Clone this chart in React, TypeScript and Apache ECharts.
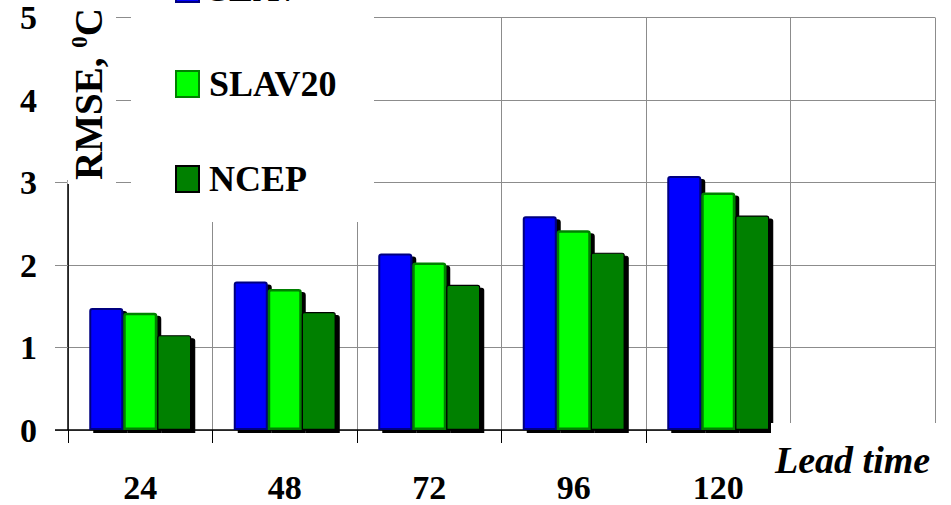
import React, { useEffect, useRef } from 'react';
import * as echarts from 'echarts';

const categories = ['24', '48', '72', '96', '120', ''];
const seriesNames = ['SLAV', 'SLAV20', 'NCEP'];
const slav = [1.48, 1.8, 2.14, 2.59, 3.08];
const slav20 = [1.42, 1.71, 2.03, 2.42, 2.88];
const ncep = [1.15, 1.43, 1.76, 2.15, 2.6];
const yTicks = { min: 0, max: 5, interval: 1 };

const FONT = '"Liberation Serif", "Times New Roman", serif';

export default function App() {
  const ref = useRef<HTMLDivElement>(null);
  useEffect(() => {
    const chart = echarts.init(ref.current!, null, { renderer: 'svg' });
    const barStyle = (fill: string, border: string, bw: number) => ({
      color: fill,
      borderColor: border,
      borderWidth: bw,
      shadowColor: '#000',
      shadowOffsetX: 4,
      shadowOffsetY: 3,
      shadowBlur: 0,
      borderRadius: [2, 2, 0, 0],
    });
    const axisFont = { fontSize: 34, fontWeight: 'bold', fontFamily: FONT, color: '#000' };
    const legendFont = { fontSize: 36, fontWeight: 'bold', fontFamily: FONT, color: '#000' };
    chart.setOption({
      animation: false,
      backgroundColor: '#fff',
      grid: { left: 68, right: 16, top: 17.5, bottom: 75, containLabel: false },
      xAxis: {
        type: 'category',
        data: categories,
        boundaryGap: true,
        axisLine: { show: true, lineStyle: { color: '#000', width: 1.5 } },
        axisTick: { show: true, length: 13, lineStyle: { color: '#000', width: 1 } },
        axisLabel: { margin: 40, ...axisFont },
        splitLine: { show: true, lineStyle: { color: '#8c8c8c', width: 1 } },
      },
      yAxis: {
        type: 'value',
        ...yTicks,
        axisLine: { show: true, lineStyle: { color: '#000', width: 1.5 } },
        axisTick: { show: true, length: 13, lineStyle: { color: '#8c8c8c', width: 1 } },
        axisLabel: { margin: 31, ...axisFont },
        splitLine: { show: true, lineStyle: { color: '#8c8c8c', width: 1 } },
      },
      legend: {
        orient: 'vertical',
        left: 175,
        top: -29,
        itemWidth: 23,
        itemHeight: 26,
        itemGap: 59,
        icon: 'rect',
        padding: 0,
        z: 20,
        data: seriesNames,
        textStyle: { ...legendFont, padding: [0, 0, 0, 5] },
        itemStyle: { shadowBlur: 0, shadowOffsetX: 0, shadowOffsetY: 0, shadowColor: 'rgba(0,0,0,0)' },
      },
      series: [
        { name: seriesNames[0], type: 'bar', data: slav, barWidth: 34, barGap: '0%', itemStyle: barStyle('#0000ff', '#000080', 2) },
        { name: seriesNames[1], type: 'bar', data: slav20, barWidth: 34, barGap: '0%', itemStyle: barStyle('#00ff00', '#008000', 2.5) },
        { name: seriesNames[2], type: 'bar', data: ncep, barWidth: 34, barGap: '0%', itemStyle: barStyle('#008000', '#000000', 1.2) },
      ],
      graphic: [
        { type: 'rect', z: 10, shape: { x: 45, y: 0, width: 71, height: 180 }, style: { fill: '#fff' } },
        { type: 'rect', z: 10, shape: { x: 67.5, y: 0, width: 48.5, height: 184 }, style: { fill: '#fff' } },
        { type: 'rect', z: 10, shape: { x: 131, y: 0, width: 243, height: 222 }, style: { fill: '#fff' } },
        { type: 'rect', z: 10, shape: { x: 771, y: 423, width: 180, height: 21 }, style: { fill: '#fff' } },
        { type: 'line', z: 10, shape: { x1: 55, y1: 430, x2: 68, y2: 430 }, style: { stroke: '#000', lineWidth: 1.5 } },
        {
          type: 'text',
          z: 20,
          x: 88,
          y: 180,
          rotation: Math.PI / 2,
          style: {
            text: '{a|RMSE, }{s|0}{a|C}',
            align: 'left',
            verticalAlign: 'middle',
            rich: {
              a: { fontSize: 39, fontWeight: 'bold', fontFamily: FONT, fill: '#000', lineHeight: 40, verticalAlign: 'bottom' },
              s: { fontSize: 23, fontWeight: 'bold', fontFamily: FONT, fill: '#000', verticalAlign: 'top' },
            },
          },
        },
        {
          type: 'text',
          z: 20,
          x: 775,
          y: 460,
          style: {
            text: 'Lead time',
            align: 'left',
            verticalAlign: 'middle',
            fontSize: 38,
            fontWeight: 'bold',
            fontStyle: 'italic',
            fontFamily: FONT,
            fill: '#000',
          },
        },
      ],
    });
    return () => chart.dispose();
  }, []);
  return (
    <div
      ref={ref}
      style={{ position: 'fixed', left: 0, top: 0, width: 951, height: 505, background: '#fff' }}
    />
  );
}
